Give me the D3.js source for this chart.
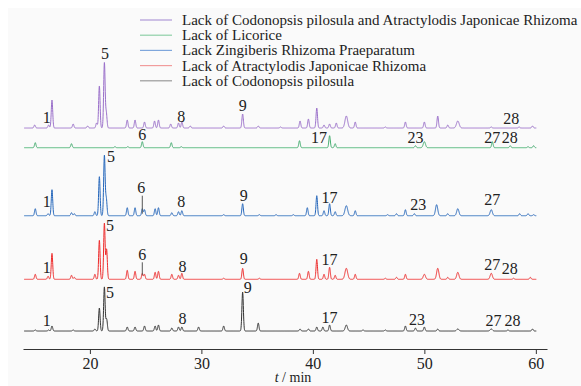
<!DOCTYPE html>
<html>
<head>
<meta charset="utf-8">
<script src="https://cdn.jsdelivr.net/npm/d3@7"></script>
<style>
  html, body { margin: 0; padding: 0; background: #fff; }
  svg { display: block; font-family: "Liberation Serif", "Times New Roman", serif; }
</style>
</head>
<body>
<div id="chart"></div>
<script>
// series names, top to bottom
const seriesNames = [
  'Lack of Codonopsis pilosula and Atractylodis Japonicae Rhizoma',
  'Lack of Licorice',
  'Lack Zingiberis Rhizoma Praeparatum',
  'Lack of Atractylodis Japonicae Rhizoma',
  'Lack of Codonopsis pilosula'
];

// peaks: [retention time (min), height, optional width]
const purplePeaks = [[15.05,3],[16.3,3],[16.6,28],[18.5,4],[19.8,2],[20.6,5],[20.85,42],[21.3,65],[21.47,15],[23.35,8],[24.05,8],[24.9,6],[25.8,7],[26.15,8],[27.25,4],[27.95,5],[28.25,6],[29.0,2],[32.0,2],[33.7,14],[35.1,2],[37.1,1],[38.85,7],[39.6,9],[40.35,20],[41.0,3],[41.5,4],[42.1,5],[43.0,12,0.12],[43.8,6],[46.5,1],[48.3,6],[50.0,6],[51.2,12],[52.1,3],[53.0,7,0.12],[56.0,1],[58.5,1],[59.7,2]];
const greenPeaks = [[15.1,5],[18.35,4],[22.25,1],[23.4,1],[24.7,6],[27.3,5],[28.2,1],[38.8,7],[41.5,12],[42.0,4],[49.2,2],[50.0,6,0.1],[56.1,6],[57.7,2],[59.3,1],[59.8,2]];
const bluePeaks = [[15.1,7],[16.25,2],[16.6,26],[18.35,3],[18.6,2],[20.45,4],[20.85,39],[21.3,60],[21.47,17],[23.35,8],[24.05,8],[24.7,7],[24.9,6],[25.85,7],[26.15,8],[27.35,3],[27.95,4],[28.25,5],[32.0,1],[33.7,12],[35.2,1],[36.7,1],[38.25,1],[39.5,8],[40.35,20],[41.0,5],[41.5,12],[42.0,4],[43.0,10,0.12],[43.8,5],[46.7,1],[47.5,2],[48.3,6],[49.1,2],[51.1,11,0.1],[52.1,2],[53.0,7,0.1],[56.0,6,0.1],[58.55,2],[59.3,2],[59.8,1]];
const redPeaks = [[15.1,5],[16.25,3],[16.6,26],[18.35,4],[18.6,2],[20.45,5],[20.85,39],[21.3,56],[21.5,30],[23.35,9],[24.05,8],[24.7,6],[24.9,5],[25.85,7],[26.15,8],[27.35,5],[27.95,4],[28.25,6],[32.0,1],[33.7,11],[35.2,1],[38.8,6],[39.6,8],[40.35,20],[41.0,5],[41.5,12],[42.0,4],[43.0,11,0.12],[43.8,5],[46.5,1],[47.5,2],[48.3,5],[50.0,5,0.1],[51.2,11,0.1],[52.1,2],[53.0,7,0.1],[56.0,6,0.1],[58.0,1],[59.5,2]];
const blackPeaks = [[15.1,1],[16.3,1],[16.6,5],[18.5,1],[20.45,2],[20.85,23],[21.3,44],[21.5,12],[23.35,4],[24.05,4],[24.9,5],[25.85,5],[26.15,6],[27.35,3],[27.95,4],[28.25,4],[29.75,4],[32.0,5],[33.7,39],[35.1,8],[38.85,2],[39.6,2],[40.35,4],[40.9,4],[41.5,6],[43.0,6,0.1],[44.5,1],[46.5,1],[48.3,5],[49.2,3],[50.0,4],[51.2,2],[53.0,2,0.1],[56.0,2,0.1],[57.5,1],[59.7,2]];

// peak labels: [time, height of label centre, text]
const purpleLabels = [[16.13,11,'1'],[21.35,75,'5'],[28.2,12,'8'],[33.7,23,'9'],[57.8,10,'28']];
const greenLabels = [[24.7,13,'6'],[40.55,10,'17'],[49.2,10,'23'],[56.1,10,'27'],[57.65,10,'28']];
const blueLabels = [[16.13,14,'1'],[21.9,59,'5'],[24.6,28,'6'],[28.2,14,'8'],[33.8,20,'9'],[41.5,18,'17'],[49.45,11,'23'],[56.1,16,'27']];
const redLabels = [[16.13,12,'1'],[21.8,54,'5'],[24.7,25,'6'],[28.3,13,'8'],[33.8,21,'9'],[41.5,20,'17'],[56.1,15,'27'],[57.65,11,'28']];
const blackLabels = [[16.13,11,'1'],[21.8,39,'5'],[28.3,13,'8'],[34.15,44,'9'],[41.5,14,'17'],[49.35,12,'23'],[56.2,11,'27'],[57.9,11,'28']];

const xTicks = [20, 30, 40, 50, 60];

const width = 581, height = 386;
const svg = d3.select('#chart').append('svg')
  .attr('width', width).attr('height', height);

svg.append('rect').attr('x', 8).attr('y', 8)
  .attr('width', width - 8).attr('height', height - 8).attr('fill', '#fafafa');

const x = d3.scaleLinear().domain([14, 61]).range([23, 547]);
const y = d3.scaleLinear().domain([0, 300]).range([331, 31]);

const traces = [
  { peaks: purplePeaks, labels: purpleLabels, offset: 203, color: '#9a6fca', legend: '#b09ad8' },
  { peaks: greenPeaks, labels: greenLabels, offset: 183.3, color: '#3fab6c', legend: '#8fd0a8' },
  { peaks: bluePeaks, labels: blueLabels, offset: 115.3, color: '#2466bb', legend: '#7fa7dc' },
  { peaks: redPeaks, labels: redLabels, offset: 51.7, color: '#ee2b2b', legend: '#f19c9c' },
  { peaks: blackPeaks, labels: blackLabels, offset: 0, color: '#333333', legend: '#9a9a9a' }
];

const times = d3.range(14.1, 60.05, 0.01);
function signal(peaks, t) {
  let s = 0;
  for (const p of peaks) {
    const w = p[2] || 0.065;
    const d = (t - p[0]) / w;
    if (Math.abs(d) < 6) s += p[1] * Math.exp(-0.5 * d * d);
  }
  return s;
}

const line = d3.line().x(d => x(d[0])).y(d => y(d[1]));

traces.forEach(tr => {
  const pts = times.map(t => [t, tr.offset + signal(tr.peaks, t)]);
  svg.append('path')
    .attr('d', line(pts))
    .attr('fill', 'none')
    .attr('stroke', tr.color)
    .attr('stroke-width', 1)
    .attr('stroke-linejoin', 'round');

  svg.append('g').selectAll('text')
    .data(tr.labels)
    .enter().append('text')
    .attr('x', d => x(d[0]))
    .attr('y', d => y(tr.offset + d[1]))
    .attr('dy', '0.35em')
    .attr('text-anchor', 'middle')
    .attr('font-size', 16)
    .attr('fill', '#222')
    .text(d => d[2]);
});

// leader lines for peak 6
[[traces[2], 20, 2], [traces[3], 17, 4]].forEach(([tr, top, bot]) => {
  svg.append('line')
    .attr('x1', x(24.7)).attr('x2', x(24.7))
    .attr('y1', y(tr.offset + top)).attr('y2', y(tr.offset + bot))
    .attr('stroke', '#555').attr('stroke-width', 1);
});

// x axis
const axis = svg.append('g')
  .attr('transform', 'translate(0,349)')
  .call(d3.axisBottom(x).tickValues(xTicks).tickSize(5).tickSizeOuter(0).tickPadding(4));
axis.select('.domain').attr('stroke', '#333');
axis.selectAll('.tick line').attr('stroke', '#333');
axis.selectAll('.tick text')
  .attr('font-size', 16)
  .attr('font-family', '"Liberation Serif", serif')
  .attr('fill', '#222');

const xl = svg.append('text')
  .attr('x', 293).attr('y', 382)
  .attr('text-anchor', 'middle')
  .attr('font-size', 14)
  .attr('fill', '#222');
xl.append('tspan').attr('font-style', 'italic').text('t');
xl.append('tspan').text(' / min');

// legend
const legend = svg.append('g');
traces.forEach((tr, i) => {
  const ly = 20 + i * 15.2;
  legend.append('line')
    .attr('x1', 140).attr('x2', 172)
    .attr('y1', ly).attr('y2', ly)
    .attr('stroke', tr.legend).attr('stroke-width', 1.2);
  legend.append('text')
    .attr('x', 182).attr('y', ly)
    .attr('dy', '0.33em')
    .attr('font-size', 15)
    .attr('fill', '#222')
    .text(seriesNames[i]);
});
</script>
</body>
</html>
